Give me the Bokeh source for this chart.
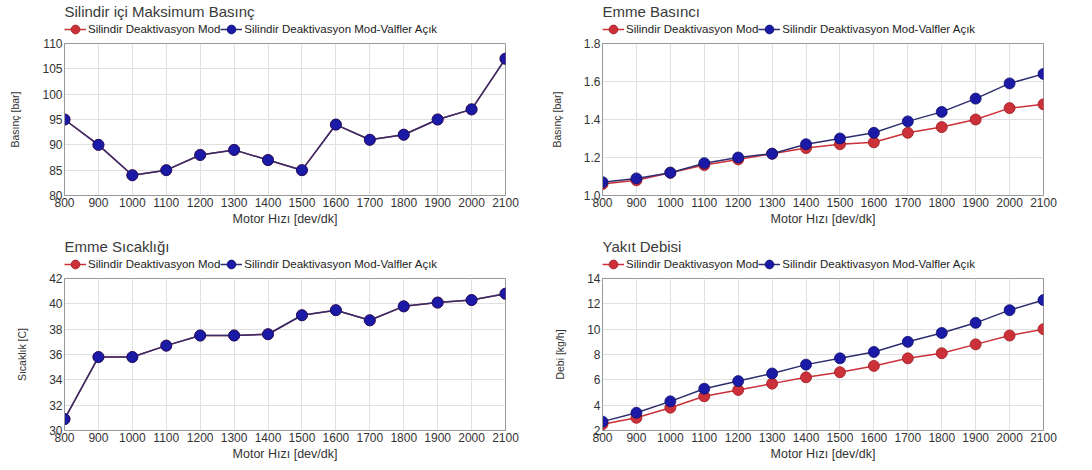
from bokeh.plotting import figure
from bokeh.layouts import column, row
from bokeh.models import Legend, LegendItem, Range1d, FixedTicker, PrintfTickFormatter
from bokeh.embed import file_html
from bokeh.resources import INLINE

rpm = [800, 900, 1000, 1100, 1200, 1300, 1400, 1500, 1600, 1700, 1800, 1900, 2000, 2100]

pmax_mod = [95, 90, 84, 85, 88, 89, 87, 85, 94, 91, 92, 95, 97, 107]
pmax_valf = [95, 90, 84, 85, 88, 89, 87, 85, 94, 91, 92, 95, 97, 107]

pint_mod = [1.06, 1.08, 1.12, 1.16, 1.19, 1.22, 1.25, 1.27, 1.28, 1.33, 1.36, 1.40, 1.46, 1.48]
pint_valf = [1.07, 1.09, 1.12, 1.17, 1.20, 1.22, 1.27, 1.30, 1.33, 1.39, 1.44, 1.51, 1.59, 1.64]

tint_mod = [30.9, 35.8, 35.8, 36.7, 37.5, 37.5, 37.6, 39.1, 39.5, 38.7, 39.8, 40.1, 40.3, 40.8]
tint_valf = [30.9, 35.8, 35.8, 36.7, 37.5, 37.5, 37.6, 39.1, 39.5, 38.7, 39.8, 40.1, 40.3, 40.8]

fuel_mod = [2.5, 3.0, 3.8, 4.7, 5.2, 5.7, 6.2, 6.6, 7.1, 7.7, 8.1, 8.8, 9.5, 10.0]
fuel_valf = [2.7, 3.4, 4.3, 5.3, 5.9, 6.5, 7.2, 7.7, 8.2, 9.0, 9.7, 10.5, 11.5, 12.3]

series_names = ["Silindir Deaktivasyon Mod", "Silindir Deaktivasyon Mod-Valfler Açık"]
x_label = "Motor Hızı [dev/dk]"

FONT = "Liberation Sans"
RED = "#cc3038"
BLUE = "#1a1aa6"
RED_EDGE = "#9c1c22"
BLUE_EDGE = "#10106a"
BLUE_LINE = "#2e2e6e"
HEADER_H = 38
PANEL_H = 235
FRAME_H = 152


def style_series(p, y1, y2):
    r1l = p.line(rpm, y1, line_color=RED, line_width=1.5)
    r1 = p.scatter(rpm, y1, size=11, fill_color=RED, line_color=RED_EDGE, line_width=0.8)
    r2l = p.line(rpm, y2, line_color=BLUE_LINE, line_width=1.5)
    r2 = p.scatter(rpm, y2, size=11, fill_color=BLUE, line_color=BLUE_EDGE, line_width=0.8)
    return r1l, r1, r2l, r2


def make_header(title, left_border, right_border):
    h = figure(width=546, height=HEADER_H, output_backend="svg", toolbar_location=None,
               x_range=Range1d(0, 1), y_range=Range1d(0, 1),
               x_axis_type=None, y_axis_type=None,
               min_border_left=left_border, min_border_right=right_border,
               min_border_top=0, min_border_bottom=0)
    h.title.text = title
    h.title.text_font = FONT
    h.title.text_font_size = "15px"
    h.title.text_font_style = "normal"
    h.title.text_color = "#3a3a3a"
    h.title.offset = 0
    h.title.standoff = 1
    h.outline_line_color = None
    h.xgrid.visible = False
    h.ygrid.visible = False
    r1l, r1, r2l, r2 = style_series(h, [None] * len(rpm), [None] * len(rpm))
    legend = Legend(items=[LegendItem(label=series_names[0], renderers=[r1l, r1]),
                           LegendItem(label=series_names[1], renderers=[r2l, r2])],
                    orientation="horizontal", location="left")
    legend.label_text_font = FONT
    legend.label_text_font_size = "11.5px"
    legend.label_text_color = "#222222"
    legend.glyph_width = 22
    legend.glyph_height = 22
    legend.label_height = 12
    legend.label_standoff = 2
    legend.spacing = 0
    legend.padding = 0
    legend.margin = 0
    legend.border_line_color = None
    legend.background_fill_alpha = 0
    h.add_layout(legend, "center")
    return h


def make_panel(ylabel, ymod, yvalf, ymin, ymax, ystep, fmt, left_border, right_border):
    top = 43 - HEADER_H
    p = figure(width=546, height=PANEL_H - HEADER_H, output_backend="svg", toolbar_location=None,
               x_range=Range1d(800, 2100), y_range=Range1d(ymin, ymax),
               min_border_left=left_border, min_border_right=right_border,
               min_border_top=top, min_border_bottom=PANEL_H - HEADER_H - top - FRAME_H)
    style_series(p, ymod, yvalf)

    p.xaxis.ticker = FixedTicker(ticks=rpm)
    p.yaxis.ticker = FixedTicker(ticks=[ymin + i * ystep for i in range(int(round((ymax - ymin) / ystep)) + 1)])
    if fmt:
        p.yaxis.formatter = PrintfTickFormatter(format=fmt)

    p.xaxis.axis_label = x_label
    p.yaxis.axis_label = ylabel
    for ax in (p.xaxis, p.yaxis):
        ax.axis_label_text_font = FONT
        ax.axis_label_text_font_style = "normal"
        ax.axis_label_text_color = "#333333"
        ax.major_label_text_font = FONT
        ax.major_label_text_font_size = "12px"
        ax.major_label_text_color = "#333333"
        ax.major_label_standoff = 2
        ax.major_tick_out = 0
        ax.major_tick_in = 0
        ax.minor_tick_out = 0
        ax.minor_tick_in = 0
        ax.axis_line_color = "#999999"
    p.xaxis.axis_label_text_font_size = "12.5px"
    p.xaxis.axis_label_standoff = 2
    p.yaxis.axis_label_text_font_size = "10.5px"
    p.yaxis.axis_label_standoff = 18

    p.xgrid.grid_line_color = "#e0e0e0"
    p.ygrid.grid_line_color = "#e0e0e0"
    p.outline_line_color = "#999999"
    p.outline_line_width = 1
    p.background_fill_color = "white"
    return p


def block(title, ylabel, ymod, yvalf, ymin, ymax, ystep, fmt, lb, rb):
    return column(make_header(title, lb, rb),
                  make_panel(ylabel, ymod, yvalf, ymin, ymax, ystep, fmt, lb, rb))


b1 = block("Silindir içi Maksimum Basınç", "Basınç [bar]", pmax_mod, pmax_valf,
           80, 110, 5, None, 64, 41)
b2 = block("Emme Basıncı", "Basınç [bar]", pint_mod, pint_valf,
           1.0, 1.8, 0.2, "%.1f", 56, 49)
b3 = block("Emme Sıcaklığı", "Sıcaklık [C]", tint_mod, tint_valf,
           30, 42, 2, None, 64, 41)
b4 = block("Yakıt Debisi", "Debi [kg/h]", fuel_mod, fuel_valf,
           2, 14, 2, None, 56, 49)

layout = column(row(b1, b2), row(b3, b4))
open("out.html", "w").write(file_html(layout, INLINE))
